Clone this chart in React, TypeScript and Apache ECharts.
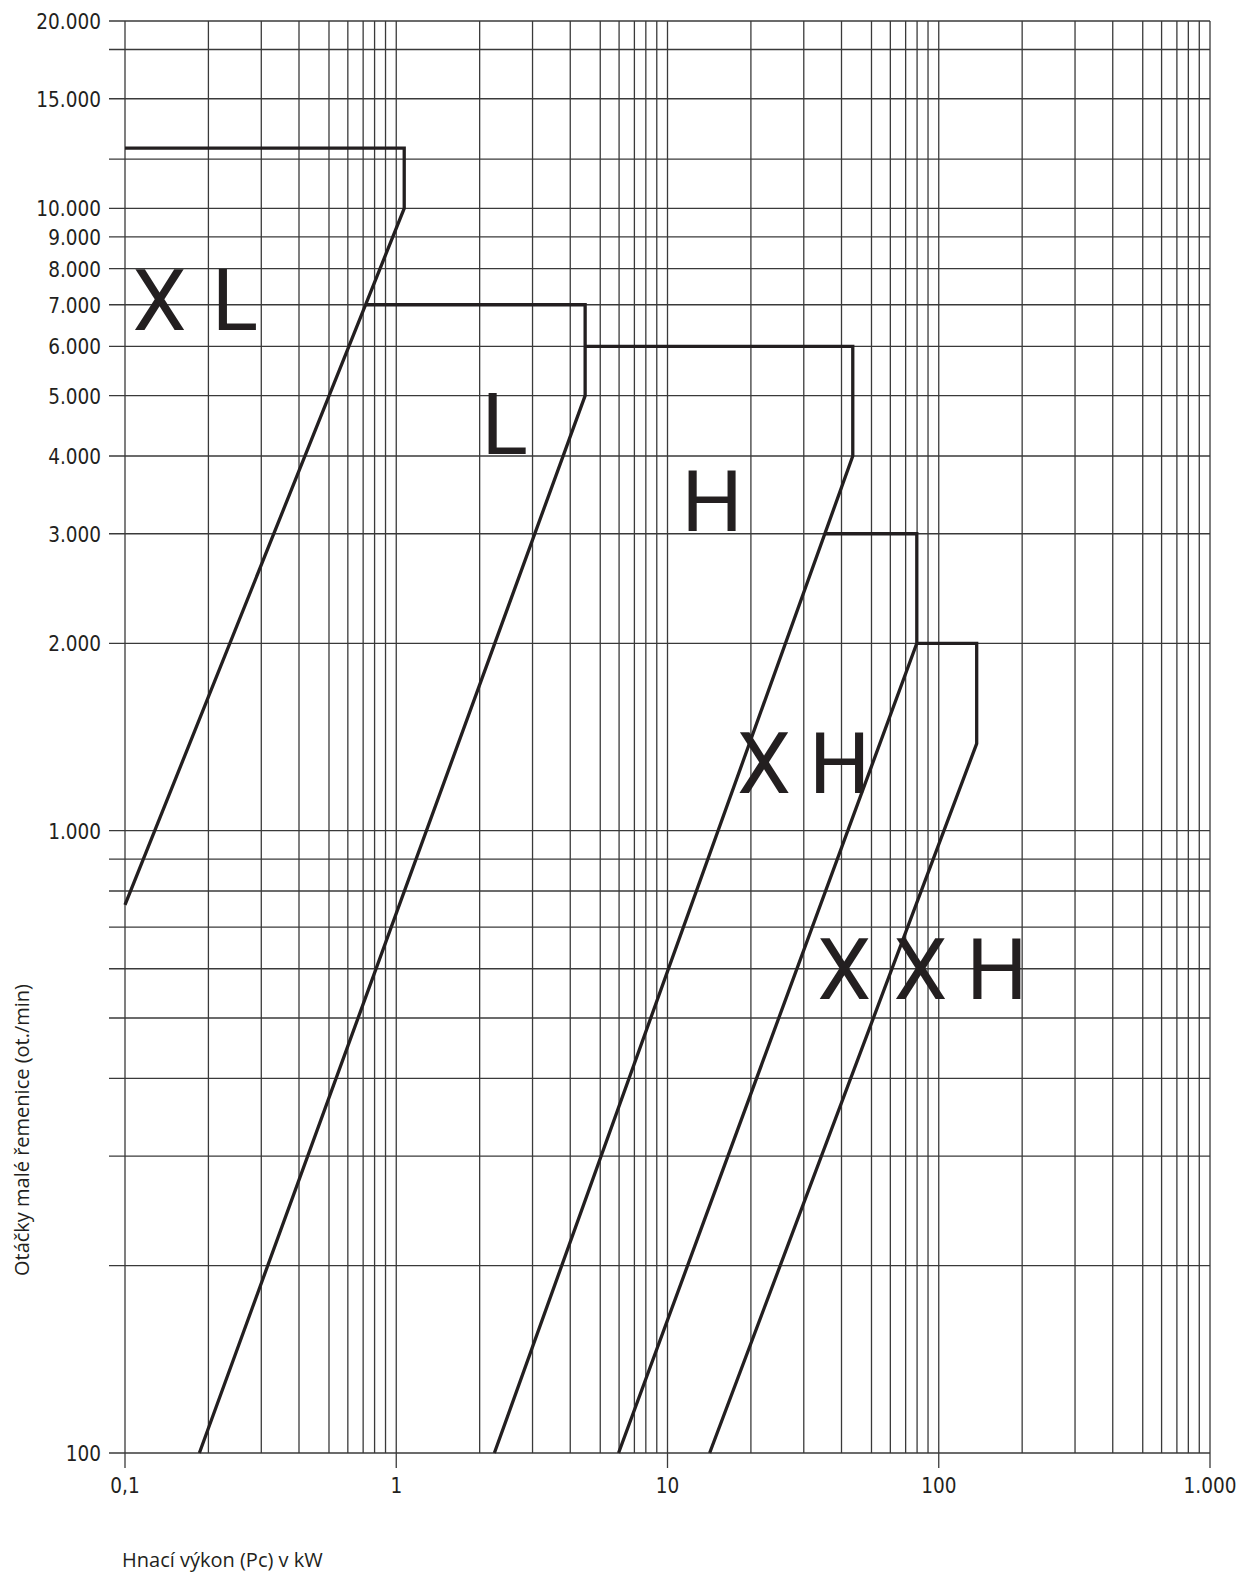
import React, { useEffect, useRef } from 'react';
import * as echarts from 'echarts';

// Axis ranges
const X_MIN = 0.1;
const X_MAX = 1000;
const Y_MIN = 100;
const Y_MAX = 20000;

// X axis (Hnací výkon, kW) – logarithmic decades and their labels
const X_DECADES = [0.1, 1, 10, 100, 1000];
const X_TICK_LABELS = ['0,1', '1', '10', '100', '1.000'];
// subdivision lines inside each decade, as drawn on the reference
const X_MINOR_FACTORS = [2.03, 3.18, 4.38, 5.65, 6.63, 7.55, 8.32, 9.13];

// Y axis (ot./min)
const Y_TICKS = [100, 1000, 2000, 3000, 4000, 5000, 6000, 7000, 8000, 9000, 10000, 15000, 20000];
const Y_TICK_LABELS = ['100', '1.000', '2.000', '3.000', '4.000', '5.000', '6.000', '7.000', '8.000', '9.000', '10.000', '15.000', '20.000'];
const Y_GRID = [100, 200, 300, 400, 500, 600, 700, 800, 900, 1000, 2000, 3000, 4000, 5000, 6000, 7000, 8000, 9000, 10000, 12000, 15000, 18000, 20000];

// Belt-profile boundary lines [kW, rpm]
const XL_LINE = [[0.1, 12500], [1.07, 12500], [1.07, 10000], [0.1, 760]];
const L_LINE = [[0.77, 7000], [4.97, 7000], [4.97, 5000], [0.188, 100]];
const H_LINE = [[4.97, 6000], [48.2, 6000], [48.2, 4000], [2.3, 100]];
const XH_LINE = [[38, 3000], [83, 3000], [83, 2000], [6.6, 100]];
const XXH_LINE = [[83, 2000], [138, 2000], [138, 1380], [14.3, 100]];

// Profile letters placed in data space
const LABEL_TEXT = ['X', 'L', 'L', 'H', 'X', 'H', 'X', 'X', 'H'];
const LABEL_X = [0.134, 0.254, 2.51, 14.6, 22.7, 43.1, 44.8, 85.6, 164];
const LABEL_Y = [7100, 7100, 4500, 3385, 1283, 1283, 598, 598, 598];

const INK = '#231f20';
const GRID_COLOR = '#3a3a3a';
const TICK_FONT = '21px "DejaVu Sans"';
const TITLE_FONT = '20px "Open Sans"';

export default function App() {
  const ref = useRef<HTMLDivElement>(null);

  useEffect(() => {
    if (!ref.current) return;
    const chart = echarts.init(ref.current, null, { renderer: 'svg' });

    const xGrid: number[][] = [];
    X_DECADES.forEach((d, i) => {
      xGrid.push([d, Y_MIN, 1]);
      if (i < X_DECADES.length - 1) {
        X_MINOR_FACTORS.forEach((f) => xGrid.push([+(d * f).toPrecision(6), Y_MIN, 0]));
      }
    });
    const yGrid = Y_GRID.map((v) => [X_MIN, v]);
    const yLabels = Y_TICKS.map((v) => [X_MIN, v]);
    const xLabels = X_DECADES.map((v) => [v, Y_MIN]);
    const letters = LABEL_X.map((x, i) => [x, LABEL_Y[i]]);

    const beltSeries = (name: string, data: number[][]) => ({
      type: 'line',
      name,
      data,
      showSymbol: false,
      symbol: 'none',
      clip: false,
      silent: true,
      z: 5,
      lineStyle: { color: INK, width: 3.3, join: 'miter', cap: 'butt' },
    });

    const option: any = {
      animation: false,
      grid: { left: 125, right: 32, top: 21, bottom: 120 },
      xAxis: {
        type: 'log',
        logBase: 10,
        min: X_MIN,
        max: X_MAX,
        axisLine: { show: false },
        axisTick: { show: false },
        axisLabel: { show: false },
        splitLine: { show: false },
      },
      yAxis: {
        type: 'log',
        logBase: 10,
        min: Y_MIN,
        max: Y_MAX,
        axisLine: { show: false },
        axisTick: { show: false },
        axisLabel: { show: false },
        splitLine: { show: false },
      },
      graphic: [
        {
          type: 'text',
          x: 122,
          y: 1559,
          style: {
            text: 'Hnací výkon (Pc) v kW',
            font: TITLE_FONT,
            fill: INK,
            align: 'left',
            verticalAlign: 'middle',
          },
        },
        {
          type: 'text',
          x: 21,
          y: 1130,
          rotation: Math.PI / 2,
          style: {
            text: 'Otáčky malé řemenice (ot./min)',
            font: TITLE_FONT,
            fill: INK,
            align: 'center',
            verticalAlign: 'middle',
          },
        },
      ],
      series: [
        {
          type: 'custom',
          name: 'vgrid',
          silent: true,
          z: 1,
          encode: { x: 0, y: 1 },
          data: xGrid,
          renderItem: (params: any, api: any) => {
            const x = api.value(0);
            const top = api.coord([x, Y_MAX]);
            const bot = api.coord([x, Y_MIN]);
            const ext = api.value(2) ? 15 : 0;
            return {
              type: 'line',
              shape: { x1: top[0], y1: top[1], x2: bot[0], y2: bot[1] + ext },
              style: { stroke: GRID_COLOR, lineWidth: 1.3 },
            };
          },
        },
        {
          type: 'custom',
          name: 'hgrid',
          silent: true,
          z: 1,
          encode: { x: 0, y: 1 },
          data: yGrid,
          renderItem: (params: any, api: any) => {
            const y = api.value(1);
            const l = api.coord([X_MIN, y]);
            const r = api.coord([X_MAX, y]);
            return {
              type: 'line',
              shape: { x1: l[0] - 16, y1: l[1], x2: r[0], y2: r[1] },
              style: { stroke: GRID_COLOR, lineWidth: 1.3 },
            };
          },
        },
        {
          type: 'custom',
          name: 'ylabels',
          silent: true,
          z: 3,
          encode: { x: 0, y: 1 },
          data: yLabels,
          renderItem: (params: any, api: any) => {
            const p = api.coord([api.value(0), api.value(1)]);
            return {
              type: 'text',
              x: p[0] - 24,
              y: p[1] + 1,
              scaleX: 0.88,
              style: {
                text: Y_TICK_LABELS[params.dataIndex],
                font: TICK_FONT,
                fill: INK,
                align: 'right',
                verticalAlign: 'middle',
              },
            };
          },
        },
        {
          type: 'custom',
          name: 'xlabels',
          silent: true,
          z: 3,
          encode: { x: 0, y: 1 },
          data: xLabels,
          renderItem: (params: any, api: any) => {
            const p = api.coord([api.value(0), api.value(1)]);
            return {
              type: 'text',
              x: p[0],
              y: p[1] + 33,
              scaleX: 0.88,
              style: {
                text: X_TICK_LABELS[params.dataIndex],
                font: TICK_FONT,
                fill: INK,
                align: 'center',
                verticalAlign: 'middle',
              },
            };
          },
        },
        beltSeries('XL', XL_LINE),
        beltSeries('L', L_LINE),
        beltSeries('H', H_LINE),
        beltSeries('XH', XH_LINE),
        beltSeries('XXH', XXH_LINE),
        {
          type: 'custom',
          name: 'profiles',
          silent: true,
          z: 6,
          encode: { x: 0, y: 1 },
          data: letters,
          renderItem: (params: any, api: any) => {
            const p = api.coord([api.value(0), api.value(1)]);
            return {
              type: 'text',
              x: p[0],
              y: p[1],
              style: {
                text: LABEL_TEXT[params.dataIndex],
                font: '400 86px Roboto',
                fill: INK,
                align: 'center',
                verticalAlign: 'middle',
              },
            };
          },
        },
      ],
    };

    chart.setOption(option);
    return () => chart.dispose();
  }, []);

  return (
    <div
      ref={ref}
      style={{ position: 'absolute', left: 0, top: 0, width: 1242, height: 1573, background: '#fff' }}
    />
  );
}
